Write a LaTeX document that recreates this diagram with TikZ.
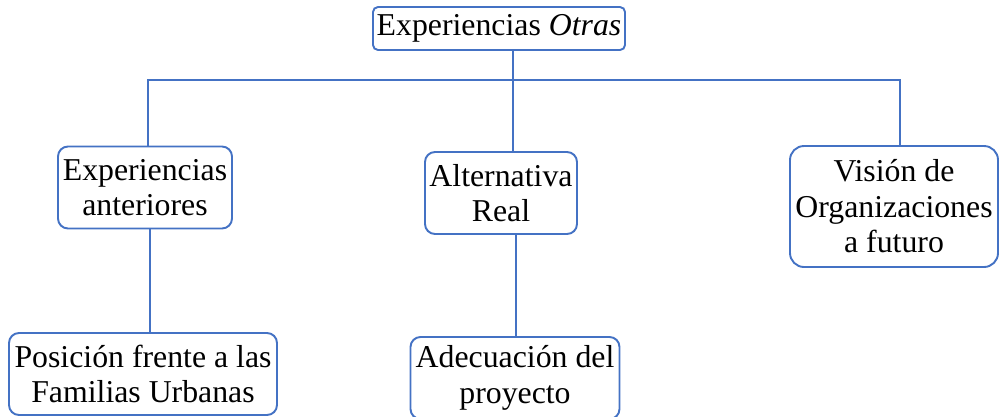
\documentclass[tikz,border=0pt]{standalone}
\usepackage{fontspec}
\setmainfont{Liberation Serif}
\definecolor{azul}{RGB}{68,114,196}
\begin{document}
\begin{tikzpicture}[x=1pt,y=-1pt,
    caja/.style={draw=azul,line width=1.9pt,rounded corners=#1,fill=white,align=center,
        inner sep=0pt,font=\fontsize{31.8}{35.5}\selectfont},
    caja/.default=10pt,
    linea/.style={draw=azul,line width=1.9pt}]
    \useasboundingbox (0,0) rectangle (1000,416);

    \node[caja=5pt,minimum width=252pt,minimum height=43pt] (otras) at (499,28.5){Experiencias \textit{Otras}};
    \node[caja,minimum width=174pt,minimum height=82pt] (anter) at (145,187.5){Experiencias\\anteriores};
    \node[caja,minimum width=152pt,minimum height=82pt] (alter) at (501,193){Alternativa\\Real};
    \node[caja=14pt,minimum width=208pt,minimum height=121pt] (vision) at (894,206.5){Visión de\\Organizaciones\\a futuro};
    \node[caja,minimum width=268pt,minimum height=82pt] (posic) at (143,374){Posición frente a las\\Familias Urbanas};
    \node[caja,minimum width=209pt,minimum height=82pt] (adecu) at (515,378){Adecuación del\\proyecto};

    \coordinate (bi) at (148,80);
    \coordinate (bd) at (900,80);
    \draw[linea] ([xshift=14pt]otras.south) -- ([xshift=12pt]alter.north);
    \draw[linea] ([xshift=3pt]anter.north) -- (bi) -- (bd) -- (bd |- vision.north);
    \draw[linea,line width=1.4pt] ([xshift=5pt]anter.south) -- ([xshift=7pt]posic.north);
    \draw[linea,line width=1.4pt] ([xshift=15pt]alter.south) -- ([xshift=1pt]adecu.north);
\end{tikzpicture}
\end{document}
